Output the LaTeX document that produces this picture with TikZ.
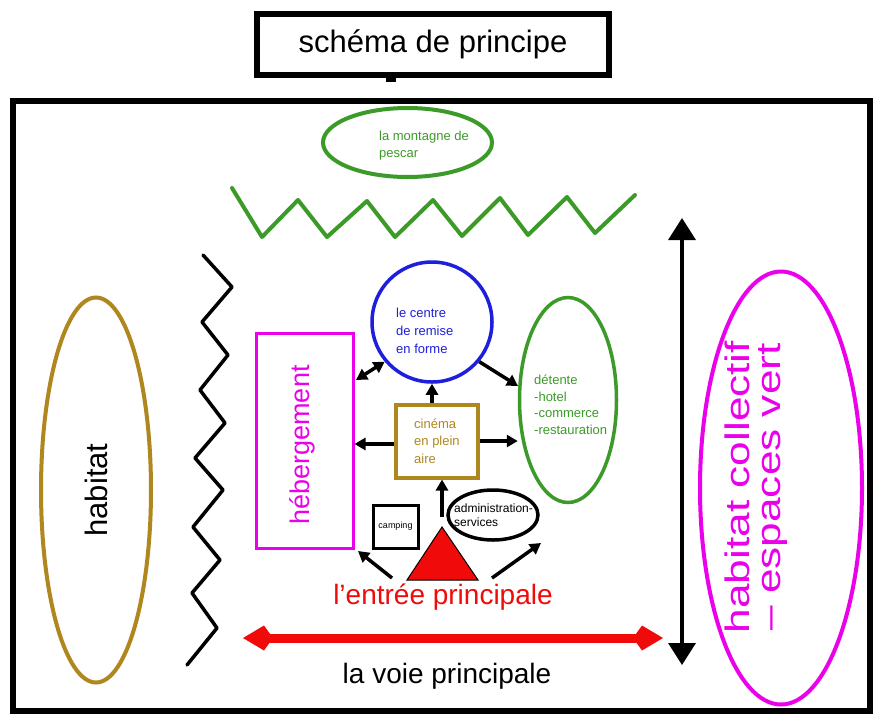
\documentclass[tikz,border=0pt]{standalone}
\usepackage{fontspec}
\setmainfont{Liberation Sans}
\usetikzlibrary{shapes.geometric,arrows.meta}
\definecolor{grn}{RGB}{60,155,40}
\definecolor{mag}{RGB}{235,0,235}
\definecolor{blu}{RGB}{30,30,220}
\definecolor{olv}{RGB}{175,135,30}
\definecolor{rd}{RGB}{240,10,10}
\begin{document}
\begin{tikzpicture}[x=1pt,y=-1pt,
  conn/.style={line width=3.5pt,-{Triangle[length=11pt,width=12pt]}},
  dconn/.style={line width=3.5pt,{Triangle[length=11pt,width=12pt]}-{Triangle[length=11pt,width=12pt]}},
  small/.style={align=left,anchor=west,inner sep=0pt}]
\useasboundingbox (0,0) rectangle (875,718);
\fill[white] (0,0) rectangle (875,718);
% title and frame
\node[draw,line width=6pt,minimum width=352pt,minimum height=61pt,inner sep=0pt,
  font=\fontsize{31}{36}\selectfont] (title) at (433,44) {schéma de principe};
\fill (386,76) rectangle (396,82);
\node[draw,line width=6pt,minimum width=857pt,minimum height=610pt,inner sep=0pt] (frame) at (441.5,406) {};
% mountain
\node[ellipse,draw=grn,line width=4pt,minimum width=169pt,minimum height=69pt,inner sep=0pt] (mont) at (407.5,142.5) {};
\node[small,text=grn,font=\fontsize{13}{17}\selectfont] (montt) at (379,145.5) {la montagne de\\pescar};
\draw[grn,line width=4pt,line join=round,line cap=round]
  (232,188) -- (262,237) -- (298,200) -- (327,237) -- (367,201) -- (395,237) -- (433,200)
  -- (462,236) -- (500,198) -- (528,235) -- (567,197) -- (595,233) -- (635,195);
% black zigzag
\draw[line width=3.5pt,line join=round,line cap=round]
  (203,255) -- (232,287) -- (202,322) -- (228,355) -- (200,390) -- (225,423) -- (195,458)
  -- (223,490) -- (193,527) -- (220,560) -- (192,593) -- (217,628) -- (187,665);
% habitat left
\node[ellipse,draw=olv,line width=4pt,minimum width=110pt,minimum height=385pt,inner sep=0pt] (hab) at (96,490) {};
\node[rotate=90,font=\fontsize{31}{36}\selectfont] (habt) at (hab.center) {habitat};
% habitat collectif right
\node[ellipse,draw=mag,line width=4pt,minimum width=162pt,minimum height=433pt,inner sep=0pt] (hcol) at (781,488) {};
\node[rotate=90,text=mag,inner sep=0pt] (hcolt) at (757,487)
  {\scalebox{1.3}[1]{\fontsize{34}{31}\selectfont\begin{tabular}{@{}c@{}}habitat collectif\\– espaces vert\end{tabular}}};
% hebergement
\node[draw=mag,line width=3pt,minimum width=97pt,minimum height=215pt,inner sep=0pt] (heb) at (304.5,440.5) {};
\node[rotate=90,text=mag,font=\fontsize{27}{30}\selectfont] (hebt) at (302,445) {hébergement};
% centre de remise en forme
\node[circle,draw=blu,line width=3.5pt,minimum size=120pt,inner sep=0pt] (ctr) at (432,322) {};
\node[small,text=blu,font=\fontsize{13}{18}\selectfont] (ctrt) at (396,331) {le centre\\de remise\\en forme};
% detente
\node[ellipse,draw=grn,line width=3.5pt,minimum width=97pt,minimum height=205pt,inner sep=0pt] (det) at (568,400) {};
\node[small,text=grn,font=\fontsize{13}{16.5}\selectfont] (dett) at (534,405) {détente\\-hotel\\-commerce\\-restauration};
% cinema
\node[draw=olv,line width=4pt,minimum width=82pt,minimum height=73pt,inner sep=0pt] (cin) at (436.5,441) {};
\node[small,text=olv,font=\fontsize{13}{17.5}\selectfont] (cint) at (414,441) {cinéma\\en plein\\aire};
% camping
\node[draw,line width=3pt,minimum width=45pt,minimum height=43pt,inner sep=0pt,font=\fontsize{9}{10}\selectfont] (camp) at (395.5,526.5) {camping};
% administration
\node[ellipse,draw,line width=3.5pt,minimum width=90pt,minimum height=50pt,inner sep=0pt] (adm) at (493,515) {};
\node[small,font=\fontsize{12}{14}\selectfont] (admt) at (454,515) {administration-\\services};
% entrance triangle
\coordinate (triA) at (442,527);
\coordinate (triB) at (407,580);
\coordinate (triC) at (478,580);
\draw[fill=rd,line width=1pt,line join=miter] (triB) -- (triA) -- (triC) -- cycle;
\coordinate (apex) at (442,517);
\coordinate (tl) at (392,578);
\coordinate (tlE) at (358,551);
\coordinate (tr) at (492,578);
\coordinate (trE) at (541,543);
\coordinate (hebA) at (356,380);
\coordinate (detA) at (518,386);
\draw[conn] (apex) -- (apex |- cin.south);
\draw[conn] (tl) -- (tlE);
\draw[conn] (tr) -- (trE);
\draw[conn] ([yshift=-3pt]cin.west) -- ([yshift=-3pt]heb.east |- cin.west);
\draw[conn] (cin.east) -- (det.west |- cin.east);
\draw[conn] (ctr.south |- cin.north) -- (ctr.south);
\draw[dconn] (ctr.220) -- (hebA);
\draw[conn] (ctr.320) -- (detA);
% vertical arrow
\coordinate (vtop) at (682,218);
\coordinate (vbot) at (682,665);
\draw[line width=3.5pt,{Triangle[length=22pt,width=27pt]}-{Triangle[length=22pt,width=27pt]}] (vtop) -- (vbot);
% main road
\coordinate (rl) at (243,638);
\coordinate (rr) at (663,638);
\draw[rd,line width=9pt,{Kite[length=30pt,width=25pt,inset=9pt]}-{Kite[length=30pt,width=25pt,inset=9pt]}] (rl) -- (rr);
\node[text=rd,font=\fontsize{28}{32}\selectfont] (entree) at (443,597) {l'entrée principale};
\node[font=\fontsize{28}{32}\selectfont] (voie) at (447,676) {la voie principale};
\end{tikzpicture}
\end{document}
